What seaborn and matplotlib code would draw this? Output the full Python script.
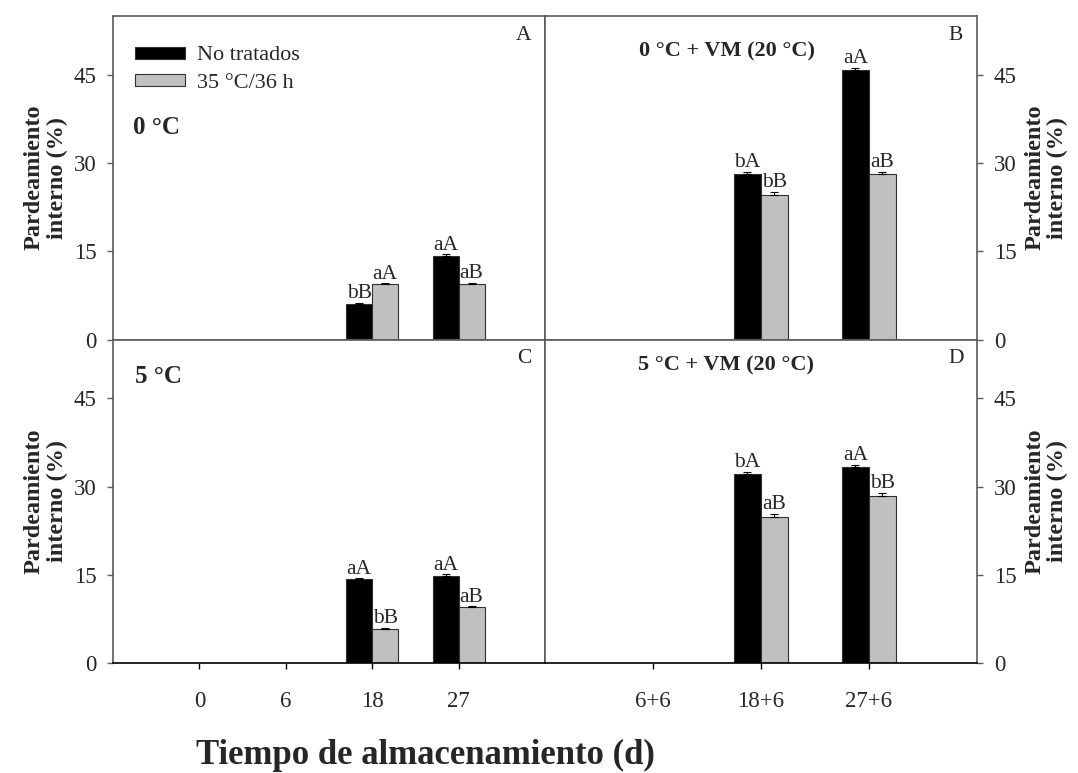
import matplotlib
matplotlib.use("Agg")
import matplotlib.pyplot as plt
import seaborn as sns
import pandas as pd
from matplotlib.patches import Patch

sns.set_theme(style="white")
plt.rcParams["font.family"] = ["Liberation Serif", "DejaVu Serif"]

# ---- data -------------------------------------------------------------
treatments = ["No tratados", "35 °C/36 h"]
days_cold = ["0", "6", "18", "27"]
days_shelf = ["6+6", "18+6", "27+6"]

# A: storage at 0 °C
a_untreated = [0, 0, 6.0, 14.2]
a_treated = [0, 0, 9.4, 9.4]
a_err_untreated = [0, 0, 0.15, 0.25]
a_err_treated = [0, 0, 0.12, 0.15]
a_lab_untreated = ["", "", "bB", "aA"]
a_lab_treated = ["", "", "aA", "aB"]

# B: 0 °C + shelf life at 20 °C
b_untreated = [0, 28.1, 45.7]
b_treated = [0, 24.6, 28.1]
b_err_untreated = [0, 0.35, 0.4]
b_err_treated = [0, 0.4, 0.35]
b_lab_untreated = ["", "bA", "aA"]
b_lab_treated = ["", "bB", "aB"]

# C: storage at 5 °C
c_untreated = [0, 0, 14.3, 14.9]
c_treated = [0, 0, 5.9, 9.5]
c_err_untreated = [0, 0, 0.12, 0.2]
c_err_treated = [0, 0, 0.12, 0.15]
c_lab_untreated = ["", "", "aA", "aA"]
c_lab_treated = ["", "", "bB", "aB"]

# D: 5 °C + shelf life at 20 °C
d_untreated = [0, 32.1, 33.3]
d_treated = [0, 24.9, 28.5]
d_err_untreated = [0, 0.4, 0.45]
d_err_treated = [0, 0.45, 0.45]
d_lab_untreated = ["", "bA", "aA"]
d_lab_treated = ["", "aB", "bB"]

colors = {"No tratados": "black", "35 °C/36 h": "#c0c0c0"}
spine_col = "#5a5a5a"


def frame(days, untreated, treated):
    return pd.DataFrame({
        "dia": days * 2,
        "trat": [treatments[0]] * len(days) + [treatments[1]] * len(days),
        "valor": list(untreated) + list(treated),
    })


def draw_panel(ax, days, vals, errs, labs, width):
    df = frame(days, vals[0], vals[1])
    sns.barplot(data=df, x="dia", y="valor", hue="trat", order=days,
                hue_order=treatments, palette=colors, width=width,
                errorbar=None, edgecolor="#303030", linewidth=0.8,
                legend=False, ax=ax)
    for cont, v, e, lab in zip(ax.containers, vals, errs, labs):
        for bar, val, err, txt in zip(cont, v, e, lab):
            if val <= 0:
                continue
            xc = bar.get_x() + bar.get_width() / 2
            ax.errorbar(xc, val, yerr=[[0], [err]], fmt="none",
                        ecolor="black", elinewidth=0.8, capsize=3,
                        capthick=0.8, zorder=1)
            ax.annotate(txt, (xc, val + err), xytext=(0, 3.5),
                        textcoords="offset points", ha="center",
                        va="baseline", fontsize=15.5)
    ax.set_ylim(0, 55)
    ax.set_yticks([0, 15, 30, 45])
    ax.set_xlim(-1, len(days))
    ax.set_xlabel("")
    for s in ax.spines.values():
        s.set_visible(True)
        s.set_color(spine_col)
        s.set_linewidth(1.2)


fig, axes = plt.subplots(2, 2, figsize=(10.78, 7.73), dpi=100)
fig.subplots_adjust(left=0.1048, right=0.9063, top=0.9797, bottom=0.1419,
                    wspace=0, hspace=0)

axA, axB = axes[0]
axC, axD = axes[1]

draw_panel(axA, days_cold, (a_untreated, a_treated),
           (a_err_untreated, a_err_treated), (a_lab_untreated, a_lab_treated), 0.6)
draw_panel(axB, days_shelf, (b_untreated, b_treated),
           (b_err_untreated, b_err_treated), (b_lab_untreated, b_lab_treated), 0.5)
draw_panel(axC, days_cold, (c_untreated, c_treated),
           (c_err_untreated, c_err_treated), (c_lab_untreated, c_lab_treated), 0.6)
draw_panel(axD, days_shelf, (d_untreated, d_treated),
           (d_err_untreated, d_err_treated), (d_lab_untreated, d_lab_treated), 0.5)

ylab = "Pardeamiento\ninterno (%)"
for ax in (axA, axC):
    ax.tick_params(axis="y", which="both", left=True, right=False,
                   direction="out", length=4, width=1, color=spine_col,
                   pad=8, labelsize=16.5)
    ax.set_ylabel(ylab, fontsize=17.5, fontweight="bold", linespacing=1.1)
    ax.yaxis.set_label_coords(-0.105, 0.5)
for ax in (axB, axD):
    ax.yaxis.tick_right()
    ax.yaxis.set_label_position("right")
    ax.tick_params(axis="y", which="both", left=False, right=True,
                   direction="out", length=4, width=1, color=spine_col,
                   pad=8, labelsize=16.5)
    ax.set_ylabel(ylab, fontsize=17.5, fontweight="bold", linespacing=1.1)
    ax.yaxis.set_label_coords(1.11, 0.5)

for ax in (axA, axB):
    ax.tick_params(axis="x", bottom=False, labelbottom=False)
for ax in (axC, axD):
    ax.tick_params(axis="x", bottom=True, direction="out", length=4,
                   width=1, color="black", pad=16, labelsize=16.5)
    ax.spines["bottom"].set_color("black")

# panel letters
for ax, letter in ((axA, "A"), (axB, "B"), (axC, "C"), (axD, "D")):
    ax.text(0.951, 0.94, letter, transform=ax.transAxes, ha="center",
            va="center", fontsize=15.5)

# storage condition titles
axA.text(0.046, 0.655, "0 °C", transform=axA.transAxes, ha="left",
         va="center", fontsize=18, fontweight="bold")
axC.text(0.051, 0.886, "5 °C", transform=axC.transAxes, ha="left",
         va="center", fontsize=18, fontweight="bold")
axB.text(0.422, 0.89, "0 °C + VM (20 °C)", transform=axB.transAxes,
         ha="center", va="center", fontsize=16, fontweight="bold")
axD.text(0.418, 0.92, "5 °C + VM (20 °C)", transform=axD.transAxes,
         ha="center", va="center", fontsize=16, fontweight="bold")

handles = [Patch(facecolor=colors[t], edgecolor="#303030", linewidth=0.8)
           for t in treatments]
axA.legend(handles, treatments, loc="upper left", bbox_to_anchor=(0.051, 0.905),
           frameon=False, fontsize=16, handlelength=2.25, handleheight=0.45,
           handletextpad=0.55, labelspacing=0.39, borderpad=0, borderaxespad=0)

fig.text(425 / 1078, 1 - 755 / 773, "Tiempo de almacenamiento (d)",
         ha="center", va="center", fontsize=25, fontweight="bold")

fig.savefig("out.png", dpi=100)
